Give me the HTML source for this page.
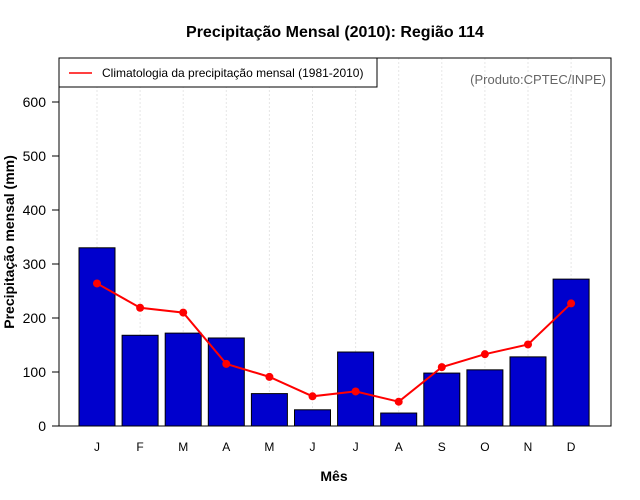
<!DOCTYPE html>
<html><head><meta charset="utf-8">
<style>
html,body{margin:0;padding:0;background:#fff;}
svg{display:block;font-family:"Liberation Sans",sans-serif;}
</style></head>
<body>
<svg id="chart" width="640" height="500" xmlns="http://www.w3.org/2000/svg">
<text x="335" y="37" text-anchor="middle" font-size="16" font-weight="bold">Precipitação Mensal (2010): Região 114</text>
<text x="334" y="481" text-anchor="middle" font-size="14" font-weight="bold">Mês</text>
<text transform="translate(14,242) rotate(-90)" text-anchor="middle" font-size="14" font-weight="bold">Precipitação mensal (mm)</text>
<g id="grid"></g>
<g id="bars"></g>
<g id="line"></g>
<g id="axes"></g>
<rect x="59" y="58" width="552" height="368" fill="none" stroke="#000" stroke-width="1"/>
<g>
<rect x="59" y="58" width="318" height="29" fill="#fff" stroke="#000" stroke-width="1"/>
<line x1="69" y1="73" x2="92" y2="73" stroke="#f00" stroke-width="1.5"/>
<text x="102" y="77" font-size="12">Climatologia da precipitação mensal (1981-2010)</text>
</g>
<text x="606" y="84" text-anchor="end" font-size="13" fill="#666">(Produto:CPTEC/INPE)</text>
</svg>
<script>
const months = ["J","F","M","A","M","J","J","A","S","O","N","D"];
const precip2010 = [330,168,172,163,60,30,137,24,98,104,128,272];
const climatology = [264,219,210,115,91,55,64,45,109,133,151,227];
const yTicks = [0,100,200,300,400,500,600];

const NS="http://www.w3.org/2000/svg";
function xPos(i){return 97 + i*43.1;}
function yPos(v){return 426 - v*0.54;}
function mk(tag,attrs,parent){const e=document.createElementNS(NS,tag);for(const k in attrs)e.setAttribute(k,attrs[k]);document.getElementById(parent).appendChild(e);return e;}

months.forEach((m,i)=>{
  const g=mk('line',{x1:xPos(i),x2:xPos(i),y1:58,y2:426,stroke:'#e6e6e6','stroke-dasharray':'2,2'},'grid');
  
  
  const b=mk('rect',{x:xPos(i)-18,y:yPos(precip2010[i]),width:36,height:precip2010[i]*0.54,fill:'#0000cd',stroke:'#000','stroke-width':1},'bars');
  
  
  const t=mk('text',{x:xPos(i),y:451,'text-anchor':'middle','font-size':12},'axes');
  t.textContent=m;
  
  
});
const pts=climatology.map((v,i)=>xPos(i)+','+yPos(v)).join(' ');
const pl=mk('polyline',{points:pts,fill:'none',stroke:'#f00','stroke-width':2},'line');


climatology.forEach((v,i)=>{
  const c=mk('circle',{cx:xPos(i),cy:yPos(v),r:4,fill:'#f00'},'line');
  
  
});
const ax=mk('line',{x1:59,x2:59,y1:yPos(0),y2:yPos(600),stroke:'#000'},'axes');


yTicks.forEach(v=>{
  const tk=mk('line',{x1:52,x2:59,y1:yPos(v),y2:yPos(v),stroke:'#000'},'axes');
  
  
  const t=mk('text',{x:46,y:yPos(v)+5,'text-anchor':'end','font-size':14},'axes');
  t.textContent=v;
  
  
});
</script>
</body></html>
